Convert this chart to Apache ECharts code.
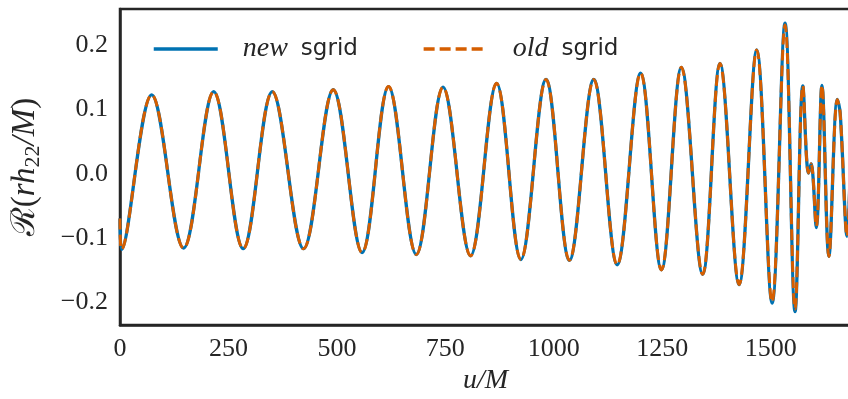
<!DOCTYPE html>
<html>
<head>
<meta charset="utf-8">
<script src="https://cdn.jsdelivr.net/npm/echarts@6/dist/echarts.min.js"></script>
<style>html,body{margin:0;padding:0;background:#fff}#c{width:848px;height:399px}</style>
</head>
<body>
<div id="c"></div>
<script>
// u/M positions of the extrema
var uValues = [0, 3.5, 73, 146.6, 216, 284, 351, 423, 491.5, 558, 619, 683, 744.6, 808, 868, 924, 982, 1036, 1092, 1146, 1200, 1248, 1294, 1343, 1383, 1427, 1467.6, 1503, 1533, 1556, 1574, 1587, 1593, 1605, 1618, 1634, 1653.5, 1660, 1676, 1685];
var newSgrid = [-0.07, -0.118, 0.123, -0.116, 0.128, -0.117, 0.128, -0.117, 0.131, -0.123, 0.136, -0.126, 0.135, -0.128, 0.141, -0.134, 0.147, -0.135, 0.147, -0.142, 0.157, -0.150, 0.166, -0.157, 0.172, -0.173, 0.193, -0.202, 0.235, -0.215, 0.137, 0.001, 0.0155, -0.084, 0.138, -0.129, 0.116, 0.095, -0.0975, 0.058];
var oldSgrid = [-0.07, -0.118, 0.123, -0.116, 0.128, -0.117, 0.128, -0.117, 0.131, -0.123, 0.136, -0.126, 0.135, -0.128, 0.141, -0.134, 0.147, -0.135, 0.147, -0.142, 0.157, -0.150, 0.166, -0.157, 0.172, -0.173, 0.193, -0.200, 0.232, -0.211, 0.137, 0.001, 0.0155, -0.082, 0.138, -0.129, 0.116, 0.095, -0.0975, 0.058];
var xTicks = [0, 250, 500, 750, 1000, 1250, 1500];
var yTicks = [-0.2, -0.1, 0.0, 0.1, 0.2];
var seriesNames = ['new', 'old'];

function pairs(xs, ys) { return xs.map(function (x, i) { return [x, ys[i]]; }); }

var serif = "'Liberation Serif', 'DejaVu Serif', serif";
var sans = "'DejaVu Sans', sans-serif";
var ink = '#262626';

var chart = echarts.init(document.getElementById('c'), null, {renderer: 'canvas'});
chart.setOption({
  animation: false,
  backgroundColor: '#ffffff',
  grid: {left: 120, top: 9, right: -3, bottom: 74, show: true, borderColor: ink, borderWidth: 2.5,
    backgroundColor: 'transparent', containLabel: false, outerBoundsMode: 'none'},
  legend: {
    left: 147, top: 30, itemWidth: 64, itemHeight: 14, itemGap: 64,
    data: seriesNames,
    itemStyle: {opacity: 0},
    lineStyle: {width: 3.5},
    formatter: function (n) { return '{i|' + n + '}{s|sgrid}'; },
    textStyle: {
      rich: {
        i: {fontFamily: serif, fontStyle: 'italic', fontSize: 28, color: ink, padding: [0, 0, 0, 20]},
        s: {fontFamily: sans, fontSize: 23, color: ink, padding: [0, 0, 0, 13]}
      }
    }
  },
  xAxis: {
    type: 'value', min: 0, max: 1685,
    name: 'u/M', nameLocation: 'middle', nameGap: 42,
    nameTextStyle: {fontFamily: serif, fontStyle: 'italic', fontSize: 28, color: ink},
    axisLine: {show: true, onZero: false, lineStyle: {color: ink, width: 2.5}},
    axisTick: {show: false},
    splitLine: {show: false},
    axisLabel: {customValues: xTicks, fontFamily: serif, fontSize: 26, color: ink, margin: 11,
      formatter: function (v) { return String(v); }}
  },
  yAxis: {
    type: 'value', min: -0.236, max: 0.257,
    name: '{a|ℛ(}{i|rh}{s|22}{i|/M}{a|)}', nameLocation: 'middle', nameGap: 76, nameRotate: 90,
    nameTextStyle: {
      color: ink,
      rich: {
        a: {fontFamily: serif, fontSize: 33, color: ink, lineHeight: 38},
        i: {fontFamily: serif, fontStyle: 'italic', fontSize: 33, color: ink, lineHeight: 38},
        s: {fontFamily: serif, fontSize: 22, color: ink, verticalAlign: 'bottom', lineHeight: 25, padding: [11, 0, 0, 0]}
      }
    },
    axisLine: {show: true, onZero: false, lineStyle: {color: ink, width: 2.5}},
    axisTick: {show: false},
    splitLine: {show: false},
    axisLabel: {
      customValues: yTicks, fontFamily: serif, fontSize: 26, color: ink, margin: 12,
      formatter: function (v) { return v.toFixed(1).replace('-', '\u2212'); }
    }
  },
  series: [
    {name: 'new', type: 'line', data: pairs(uValues, newSgrid), smooth: 0.364, symbol: 'none',
      lineStyle: {color: '#0072B2', width: 3.3}, itemStyle: {color: '#0072B2'}, z: 2},
    {name: 'old', type: 'line', data: pairs(uValues, oldSgrid), smooth: 0.364, symbol: 'none',
      lineStyle: {color: '#D55E00', width: 3, type: [11, 5]}, itemStyle: {color: '#D55E00'}, z: 3}
  ]
});
</script>
</body>
</html>
